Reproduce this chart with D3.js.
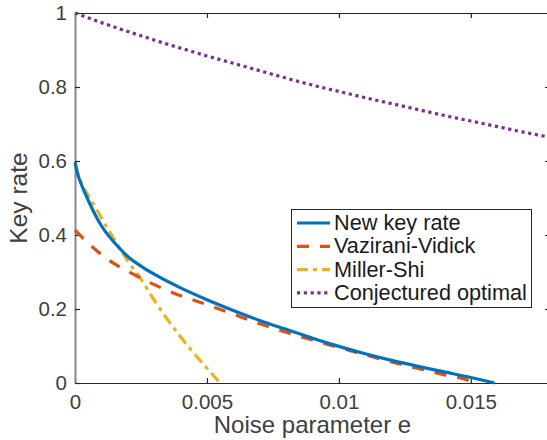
<!DOCTYPE html>
<html>
<head>
<meta charset="utf-8">
<script src="https://cdn.jsdelivr.net/npm/d3@7"></script>
<style>
  html, body { margin: 0; padding: 0; background: #fff; }
  svg { display: block; }
  text { font-family: "Liberation Sans", Arial, Helvetica, sans-serif; }
</style>
</head>
<body>
<svg id="chart" width="547" height="440"></svg>
<script>
// Key rate versus noise parameter e for several protocols.
const newKeyE     = [0, 0.0001, 0.00025, 0.0005, 0.00075, 0.001, 0.0015, 0.002, 0.0025, 0.003, 0.004, 0.005, 0.006, 0.007, 0.008, 0.009, 0.010, 0.011, 0.012, 0.013, 0.014, 0.015, 0.0159];
const newKeyRate  = [0.597, 0.565, 0.535, 0.494, 0.457, 0.425, 0.379, 0.342, 0.316, 0.294, 0.257, 0.225, 0.196, 0.169, 0.145, 0.121, 0.099, 0.079, 0.061, 0.045, 0.030, 0.015, 0];

const vvE    = [0, 0.0005, 0.001, 0.0015, 0.002, 0.003, 0.004, 0.005, 0.006, 0.007, 0.008, 0.009, 0.010, 0.011, 0.012, 0.013, 0.014, 0.015, 0.0151];
const vvRate = [0.413, 0.378, 0.347, 0.322, 0.302, 0.266, 0.236, 0.212, 0.186, 0.160, 0.137, 0.116, 0.096, 0.076, 0.057, 0.039, 0.022, 0.004, 0];

const msE    = [0, 0.00025, 0.0005, 0.00075, 0.001, 0.0015, 0.002, 0.0025, 0.003, 0.0035, 0.004, 0.0045, 0.005, 0.0055];
const msRate = [0.59, 0.540, 0.507, 0.478, 0.446, 0.387, 0.330, 0.281, 0.224, 0.172, 0.125, 0.081, 0.040, 0];

const optE    = [0, 0.001, 0.002, 0.003, 0.004, 0.005, 0.006, 0.007, 0.008, 0.009, 0.010, 0.011, 0.012, 0.013, 0.014, 0.015, 0.016, 0.017, 0.018];
const optRate = [1.000, 0.974, 0.950, 0.927, 0.905, 0.884, 0.864, 0.844, 0.824, 0.805, 0.788, 0.771, 0.755, 0.739, 0.723, 0.708, 0.693, 0.678, 0.664];

const seriesNames = ["New key rate", "Vazirani-Vidick", "Miller-Shi", "Conjectured optimal"];

const xTickValues = [0, 0.005, 0.01, 0.015];
const xTickLabels = ["0", "0.005", "0.01", "0.015"];
const yTickValues = [0, 0.2, 0.4, 0.6, 0.8, 1];
const yTickLabels = ["0", "0.2", "0.4", "0.6", "0.8", "1"];

const xTitle = "Noise parameter e";
const yTitle = "Key rate";

// Layout
const plot = { left: 75, right: 550, top: 13, bottom: 383 };
const axisColor = "#262626";
const tickColor = "#404040";

const svg = d3.select("#chart");

const x = d3.scaleLinear().domain([0, 0.018]).range([plot.left, plot.right]);
const y = d3.scaleLinear().domain([0, 1]).range([plot.bottom, plot.top]);

const series = [
  { name: seriesNames[0], e: newKeyE, v: newKeyRate, color: "#0072BD", width: 3.2, dash: null },
  { name: seriesNames[1], e: vvE,     v: vvRate,     color: "#D95319", width: 3.2, dash: "12,11" },
  { name: seriesNames[2], e: msE,     v: msRate,     color: "#EDB120", width: 3.2, dash: "11,5,4,5" },
  { name: seriesNames[3], e: optE,    v: optRate,    color: "#7E2F8E", width: 3.2, dash: "3.2,3.6" }
];

svg.append("defs").append("clipPath").attr("id", "plot-clip")
  .append("rect")
  .attr("x", plot.left - 2).attr("y", plot.top - 2)
  .attr("width", plot.right - plot.left + 4).attr("height", plot.bottom - plot.top + 4);

// Axes (box style with inward ticks)
function styleAxis(g) {
  g.attr("font-family", null);
  g.select(".domain").attr("stroke", axisColor).attr("stroke-width", 1.2);
  g.selectAll(".tick line").attr("stroke", axisColor).attr("stroke-width", 1.2);
  g.selectAll(".tick text").attr("fill", tickColor).attr("font-size", 20.5);
}

svg.append("g")
  .attr("transform", `translate(0,${plot.bottom})`)
  .call(d3.axisBottom(x).tickValues(xTickValues)
    .tickFormat((d, i) => xTickLabels[i])
    .tickSizeInner(-5).tickSizeOuter(0).tickPadding(11))
  .call(styleAxis);

svg.append("g")
  .attr("transform", `translate(0,${plot.top})`)
  .call(d3.axisTop(x).tickValues(xTickValues).tickFormat("")
    .tickSizeInner(-5).tickSizeOuter(0))
  .call(styleAxis);

const yAxis = svg.append("g")
  .attr("transform", `translate(${plot.left},0)`)
  .call(d3.axisLeft(y).tickValues(yTickValues)
    .tickFormat((d, i) => yTickLabels[i])
    .tickSizeInner(-5).tickSizeOuter(0).tickPadding(8))
  .call(styleAxis);
yAxis.select(".domain").attr("stroke", "#8a8a8a").attr("stroke-width", 2);

svg.append("g")
  .attr("transform", `translate(${plot.right},0)`)
  .call(d3.axisRight(y).tickValues(yTickValues).tickFormat("")
    .tickSizeInner(-5).tickSizeOuter(0))
  .call(styleAxis);

// Curves
const line = d3.line().curve(d3.curveMonotoneX).x(d => x(d[0])).y(d => y(d[1]));
const curves = svg.append("g").attr("clip-path", "url(#plot-clip)");
// draw in reverse so the solid curve sits on top
series.slice().reverse().forEach(s => {
  curves.append("path")
    .datum(d3.zip(s.e, s.v))
    .attr("fill", "none")
    .attr("stroke", s.color)
    .attr("stroke-width", s.width)
    .attr("stroke-dasharray", s.dash)
    .attr("stroke-linejoin", "round")
    .attr("d", line);
});

// Axis titles
svg.append("text")
  .attr("x", (plot.left + plot.right) / 2)
  .attr("y", 433)
  .attr("text-anchor", "middle")
  .attr("font-size", 24)
  .attr("fill", tickColor)
  .text(xTitle);

svg.append("text")
  .attr("transform", `translate(27,${(plot.top + plot.bottom) / 2}) rotate(-90)`)
  .attr("text-anchor", "middle")
  .attr("font-size", 24.5)
  .attr("fill", tickColor)
  .text(yTitle);

// Legend
const legend = svg.append("g");
legend.append("rect")
  .attr("x", 291.5).attr("y", 209.5)
  .attr("width", 240).attr("height", 98)
  .attr("fill", "#fff")
  .attr("stroke", axisColor)
  .attr("stroke-width", 1);

series.forEach((s, i) => {
  const base = 230 + i * 23.3;
  legend.append("line")
    .attr("x1", 297).attr("x2", 330)
    .attr("y1", base - 7).attr("y2", base - 7)
    .attr("stroke", s.color)
    .attr("stroke-width", s.width)
    .attr("stroke-dasharray", s.dash);
  legend.append("text")
    .attr("x", 334).attr("y", base)
    .attr("font-size", 21.7)
    .attr("fill", "#1a1a1a")
    .text(s.name);
});
</script>
</body>
</html>
